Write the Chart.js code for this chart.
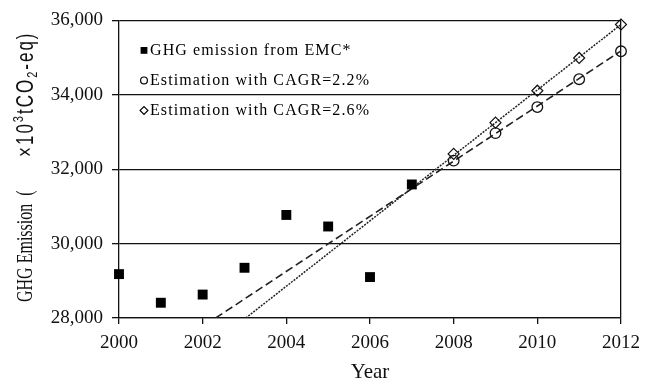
<!DOCTYPE html>
<html>
<head>
<meta charset="utf-8">
<script src="https://cdn.jsdelivr.net/npm/chart.js@4.4.0/dist/chart.umd.min.js"></script>
<style>
html, body { margin: 0; padding: 0; background: #fff; }
#chart { display: block; }
</style>
</head>
<body>
<canvas id="chart" width="655" height="385"></canvas>
<script>
// values
const emcYears = [2000, 2001, 2002, 2003, 2004, 2005, 2006, 2007];
const emcEmission = [29180, 28410, 28630, 29350, 30770, 30460, 29100, 31590];
const estYears = [2008, 2009, 2010, 2011, 2012];
const estCagr22 = [32230, 32970, 33670, 34420, 35170];
const estCagr26 = [32410, 33250, 34110, 34990, 35890];
// trend lines: where they come into the plot, and their value at 2012
const trend22Years = [2002.31, 2012];
const trend22Values = [28000, 35180];
const trend26Years = [2003.03, 2012];
const trend26Values = [28000, 35890];

const seriesLabels = ['GHG emission from EMC*', 'Estimation with CAGR=2.2%', 'Estimation with CAGR=2.6%'];
const xTicks = [2000, 2002, 2004, 2006, 2008, 2010, 2012];
const xTickLabels = ['2000', '2002', '2004', '2006', '2008', '2010', '2012'];
const yTicks = [28000, 30000, 32000, 34000, 36000];
const yTickLabels = ['28,000', '30,000', '32,000', '34,000', '36,000'];
const xTitle = 'Year';
const yTitleMain = 'GHG Emission  (';
const yTitleUnit = [['×10', 0], ['3', -1], ['tCO', 0], ['2', 1], ['-eq)', 0]];

const SERIF = '"Liberation Serif", "Times New Roman", serif';
const SANS = '"Liberation Sans", Arial, sans-serif';
const INK = '#111';

const toPoints = (xs, ys) => xs.map((x, i) => ({ x: x, y: ys[i] }));

// legend drawn inside the plot, top left
function drawMarker(ctx, style, x, y, r){
  ctx.beginPath();
  if(style === 'rect'){
    ctx.fillStyle = '#000';
    ctx.fillRect(x - r, y - r, 2*r, 2*r);
    return;
  }
  if(style === 'circle') ctx.arc(x, y, r, 0, Math.PI*2);
  else { ctx.moveTo(x - r - 0.5, y); ctx.lineTo(x, y - r - 0.5); ctx.lineTo(x + r + 0.5, y); ctx.lineTo(x, y + r + 0.5); ctx.closePath(); }
  ctx.strokeStyle = '#000';
  ctx.lineWidth = 1.2;
  ctx.stroke();
}

const insideLegend = {
  id: 'insideLegend',
  afterDatasetsDraw(chart){
    const {ctx, chartArea} = chart;
    ctx.save();
    ctx.font = '16px ' + SERIF;
    ctx.letterSpacing = '1.1px';
    ctx.textBaseline = 'middle';
    chart.data.datasets.filter(d => d.inLegend).forEach((ds, i) => {
      const y = chartArea.top + 30 + i*30;
      const x = chartArea.left + 25;
      drawMarker(ctx, ds.pointStyle, x, y, 3.4);
      ctx.fillStyle = '#000';
      ctx.fillText(ds.label, x + 6, y);
    });
    ctx.restore();
  }
};

// y title: serif part, then the unit with super/subscripts
const yTitle = {
  id: 'yTitle',
  afterDraw(chart){
    const {ctx} = chart;
    ctx.save();
    ctx.translate(26, 302);
    ctx.rotate(-Math.PI/2);
    ctx.scale(1, 1.4);
    ctx.textBaseline = 'middle';
    ctx.fillStyle = INK;
    ctx.font = '16px ' + SERIF;
    ctx.fillText(yTitleMain, 0, 0);
    let x = 145;
    ctx.letterSpacing = '2px';
    yTitleUnit.forEach(([t, shift]) => {
      ctx.font = (shift ? '11px ' : '17px ') + SANS;
      ctx.fillText(t, x, shift * 5);
      x += ctx.measureText(t).width;
    });
    ctx.restore();
  }
};

new Chart(document.getElementById('chart'), {
  type: 'scatter',
  data: {
    datasets: [
      { label: seriesLabels[0], inLegend: true, data: toPoints(emcYears, emcEmission),
        pointStyle: 'rect', pointRadius: 7, pointHoverRadius: 7, backgroundColor: '#000', borderColor: '#000', borderWidth: 0, clip: false },
      { label: seriesLabels[1], inLegend: true, data: toPoints(estYears, estCagr22),
        pointStyle: 'circle', pointRadius: 5.3, backgroundColor: 'rgba(0,0,0,0)', borderColor: INK, borderWidth: 1.3, clip: false },
      { label: seriesLabels[2], inLegend: true, data: toPoints(estYears, estCagr26),
        pointStyle: 'rectRot', pointRadius: 5.5, backgroundColor: 'rgba(0,0,0,0)', borderColor: INK, borderWidth: 1.2, clip: false },
      { label: 'trend 2.2%', data: toPoints(trend22Years, trend22Values), showLine: true, pointRadius: 0,
        borderColor: '#222', borderWidth: 1.6, borderDash: [8, 4], fill: false },
      { label: 'trend 2.6%', data: toPoints(trend26Years, trend26Values), showLine: true, pointRadius: 0,
        borderColor: '#222', borderWidth: 1.5, borderDash: [2, 1.2], fill: false }
    ]
  },
  options: {
    responsive: false,
    animation: false,
    layout: { padding: { top: 17, right: 34, left: 0, bottom: 0 } },
    plugins: { legend: { display: false }, tooltip: { enabled: false } },
    scales: {
      x: {
        type: 'linear', min: 2000, max: 2012,
        afterBuildTicks: s => { s.ticks = xTicks.map(v => ({ value: v })); },
        afterFit: s => { s.height = 67; },
        ticks: { color: INK, font: { family: SERIF, size: 19 }, padding: 8, maxRotation: 0,
          callback: v => xTickLabels[xTicks.indexOf(v)] },
        grid: { color: c => (c.tick && c.tick.value === 2012) ? INK : 'rgba(0,0,0,0)', tickColor: INK, lineWidth: 1.3, tickLength: 6 },
        border: { color: INK, width: 1.3 },
        title: { display: true, text: xTitle, color: INK, font: { family: SERIF, size: 21 }, padding: { top: 0, bottom: 0 } }
      },
      y: {
        min: 28000, max: 36000,
        afterBuildTicks: s => { s.ticks = yTicks.map(v => ({ value: v })); },
        afterFit: s => { s.width = 119; },
        ticks: { color: INK, font: { family: SERIF, size: 19 }, padding: 9,
          callback: v => yTickLabels[yTicks.indexOf(v)] },
        grid: { color: INK, lineWidth: 1.3, tickLength: 7 },
        border: { color: INK, width: 1.3 }
      }
    }
  },
  plugins: [insideLegend, yTitle]
});
</script>
</body>
</html>
